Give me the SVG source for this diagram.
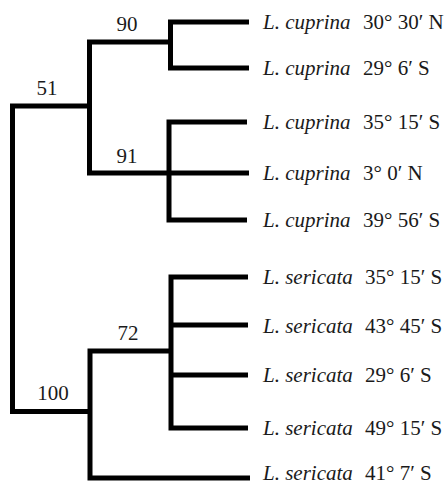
<svg xmlns="http://www.w3.org/2000/svg" width="447" height="485" viewBox="0 0 447 485">
<style>
.e{fill:none;stroke:#000;stroke-width:5;stroke-linejoin:miter;stroke-linecap:butt}
.t{font-family:"Liberation Serif","Times New Roman",Times,serif;font-size:21px;fill:#1a1a1a}
.sp{font-style:italic}
.bs{text-anchor:middle}
</style>
<rect width="447" height="485" fill="#fff"/>
<g id="connectors">
<path class="e" d="M89.5 106 H12.5 V411.5 H90"/>
<path class="e" d="M168 42 H89.5 V173"/>
<path class="e" d="M249 22 H170.5 V68 H249"/>
<path class="e" d="M87 173 H249"/>
<path class="e" d="M247 122 H169 V220 H247"/>
<path class="e" d="M169 351 H90 V478 H250"/>
<path class="e" d="M248 277 H171 V428 H248"/>
<path class="e" d="M171 325 H248 M171 375 H248"/>
</g>
<g class="t">
<g id="n51"><text class="bs" x="47" y="95">51</text></g>
<g id="n90"><text class="bs" x="127" y="31">90</text></g>
<g id="n91"><text class="bs" x="127" y="163">91</text></g>
<g id="n100"><text class="bs" x="53" y="400">100</text></g>
<g id="n72"><text class="bs" x="128" y="340">72</text></g>
<g id="t1"><text x="263" y="29"><tspan class="sp">L. cuprina</tspan><tspan x="363">30° 30′ N</tspan></text></g>
<g id="t2"><text x="263" y="75"><tspan class="sp">L. cuprina</tspan><tspan x="363">29° 6′ S</tspan></text></g>
<g id="t3"><text x="263" y="129"><tspan class="sp">L. cuprina</tspan><tspan x="363">35° 15′ S</tspan></text></g>
<g id="t4"><text x="263" y="180"><tspan class="sp">L. cuprina</tspan><tspan x="363">3° 0′ N</tspan></text></g>
<g id="t5"><text x="263" y="227"><tspan class="sp">L. cuprina</tspan><tspan x="363">39° 56′ S</tspan></text></g>
<g id="t6"><text x="263" y="284"><tspan class="sp">L. sericata</tspan><tspan x="365">35° 15′ S</tspan></text></g>
<g id="t7"><text x="263" y="333"><tspan class="sp">L. sericata</tspan><tspan x="365">43° 45′ S</tspan></text></g>
<g id="t8"><text x="263" y="382"><tspan class="sp">L. sericata</tspan><tspan x="365">29° 6′ S</tspan></text></g>
<g id="t9"><text x="263" y="435"><tspan class="sp">L. sericata</tspan><tspan x="365">49° 15′ S</tspan></text></g>
<g id="t10"><text x="263" y="480"><tspan class="sp">L. sericata</tspan><tspan x="365">41° 7′ S</tspan></text></g>
</g>
</svg>
